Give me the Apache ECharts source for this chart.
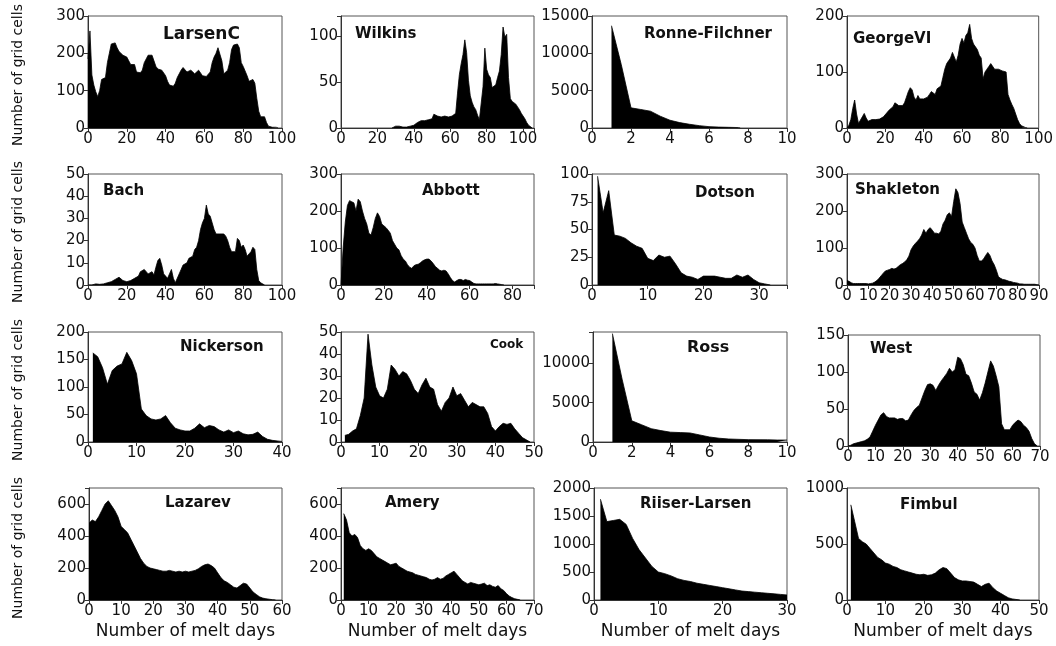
<!DOCTYPE html>
<html>
<head>
<meta charset="utf-8">
<script src="https://cdn.jsdelivr.net/npm/echarts@6/dist/echarts.min.js"></script>
<style>
html,body{margin:0;padding:0;background:#fff}
#chart{width:1056px;height:646px}
</style>
</head>
<body>
<div id="chart"></div>
<script>
// Histograms of melt days per grid cell for sixteen Antarctic ice shelves.
// Each count list starts at the given first day and runs in one-day steps.

const larsenCStart = 0;
const larsenC = [185,260,142,115,97,84,100,130,125,135,175,200,225,230,228,215,205,200,195,195,190,180,170,175,170,150,148,148,155,175,185,195,200,195,180,165,158,155,155,150,140,125,115,112,112,120,135,145,155,162,158,150,145,155,155,145,150,155,150,140,140,138,140,150,175,190,200,215,210,180,145,148,155,175,210,222,218,225,215,175,165,160,140,125,125,130,120,80,45,30,25,30,15,5,3,2,2,2,0];

const wilkinsStart = 28;
const wilkins = [0,2,2,2,2,1,1,1,1,1,2,2,3,5,6,7,8,8,8,9,9,10,10,15,13,13,13,12,12,13,13,12,12,13,13,16,38,58,70,80,96,82,52,35,28,23,20,14,9,8,45,87,64,58,55,44,42,47,55,62,80,110,99,102,55,32,29,28,26,23,20,16,14,10,6,3,1,0];

// Ronne-Filchner and Ross are read at half-day steps: [day, cells]
const ronneFilchner = [[1,13700],[1.5,8500],[2,2700],[2.5,2480],[3,2250],[3.5,1580],[4,1040],[4.5,720],[5,500],[5.5,315],[6,180],[6.5,120],[7,90],[7.5,60],[7.6,0]];

const georgeVIStart = 0;
const georgeVI = [0,5,15,35,50,25,8,10,20,26,18,12,14,15,13,15,16,16,18,20,22,28,32,35,38,45,45,40,38,40,45,55,65,72,68,55,50,58,52,54,52,55,55,60,65,62,60,70,68,75,90,105,115,120,125,135,137,118,130,150,160,152,165,170,185,160,150,148,140,130,125,88,100,105,110,115,118,105,108,105,108,102,105,100,60,50,42,35,25,15,8,4,2,1,0];

const bachStart = 0;
const bach = [0,0,0,0,0.5,0.3,0.3,0.3,0.5,1,1,1.5,1.5,2,2.5,3,3.5,3,2,2,1.5,1.5,2,2,3,3,4,6,6.5,7,6.5,5,5,6,4.5,8,11,12,9,5,4,3,5,7,3,1,1.5,5,7,9,9,10,12,12,13,16,17,20,25,28,30,36,32,31,28,25,23,23,23,22.5,23,22,20,17,15,15,15,21,20,17,18,16,13,14,15,17,16,7,2,1,0.5,0];

const abbottStart = 0;
const abbott = [0,100,170,215,228,225,222,200,232,225,200,180,165,140,135,155,180,195,185,165,160,155,148,140,120,110,100,95,80,70,65,55,48,45,52,55,56,60,65,68,70,70,65,58,50,45,40,38,40,38,30,20,12,8,12,15,15,12,15,13,12,8,4,3,3,3,3,3,3,3,3,3,4,3,2,1,0];

const dotsonStart = 1;
const dotson = [98,65,85,45,44,42,38,35,33,24,22,27,25,26,19,11,8,7,5,8,8,8,7,6,6,9,7,9,5,2,1,0];

const shakletonStart = 0;
const shakleton = [12,10,6,4,4,4,4,4,4,4,3,4,5,8,12,18,25,32,38,40,42,45,43,45,50,55,58,62,68,78,95,105,112,118,125,135,150,140,150,155,148,140,140,138,145,165,175,190,195,185,225,260,250,220,170,155,140,125,115,110,100,80,65,65,70,80,88,80,65,55,40,22,18,15,14,12,10,9,7,6,5,3,3,2,2,2,2,2,2,1,0];

const nickersonStart = 1;
const nickerson = [162,155,135,105,130,138,142,163,148,124,60,48,42,40,42,48,35,25,22,20,20,25,33,26,30,28,22,18,22,17,20,15,13,14,18,10,5,3,2,1];

const cookStart = 1;
const cook = [3,3.5,5,6,12,20,49,35,25,21,20,24,35,33,30,32,31,28,24,22,26,29,25,24,17,14,18,20,25,21,22,19,16,18,17,16,16,13,7,5,7,8.5,8,8.5,6,4,2,1,0];

const ross = [[1,13800],[1.5,8000],[2,2700],[2.5,2200],[3,1700],[3.5,1450],[4,1250],[4.5,1200],[5,1150],[5.5,900],[6,640],[6.5,480],[7,380],[8,300],[9,280],[9.5,250],[10,250]];

const westStart = 0;
const west = [0,1,3,4,5,6,7,9,12,20,28,35,42,45,40,38,38,38,36,37,37,34,35,42,48,52,55,65,75,83,84,82,75,82,88,93,98,105,100,103,120,118,110,97,95,85,73,70,62,72,85,100,115,108,95,80,30,22,22,22,28,32,35,33,28,25,20,10,3,0];

const lazarevStart = 0;
const lazarev = [480,500,490,520,560,600,620,590,560,520,460,440,420,380,340,300,260,230,210,200,195,190,185,180,180,185,180,175,180,175,180,175,180,185,195,210,220,225,215,200,170,140,120,110,95,80,75,90,105,100,75,50,35,20,12,8,5,2,0];

const ameryStart = 1;
const amery = [540,500,420,400,410,390,340,320,310,320,310,290,270,260,250,240,230,220,225,230,210,200,190,180,175,170,160,155,150,145,140,130,125,130,140,130,135,150,160,170,180,160,140,120,110,100,110,105,100,95,100,105,90,95,85,80,90,70,60,40,25,15,8,4,0];

const riiserLarsenStart = 1;
const riiserLarsen = [1800,1400,1420,1440,1350,1100,900,750,600,500,470,430,380,350,330,300,280,260,240,220,200,180,160,150,140,130,120,110,100,90];

const fimbulStart = 1;
const fimbul = [850,700,550,520,500,460,420,380,360,330,320,300,290,270,260,250,240,230,225,230,220,225,240,270,290,280,240,200,180,170,170,165,160,140,120,140,150,110,80,60,40,20,10,5,0];

// Panel names and axis ranges
const panelNames = ['LarsenC','Wilkins','Ronne-Filchner','GeorgeVI','Bach','Abbott','Dotson','Shakleton','Nickerson','Cook','Ross','West','Lazarev','Amery','Riiser-Larsen','Fimbul'];
const xRanges = [[100,20],[106,20],[10,2],[100,20],[100,20],[90,20],[35,10],[90,10],[40,10],[50,10],[10,2],[70,10],[60,10],[70,10],[30,10],[50,10]];
const yRanges = [[300,100],[122,50],[15000,5000],[200,100],[50,10],[300,100],[100,25],[300,100],[200,50],[50,10],[14000,5000],[150,50],[700,200],[700,200],[2000,500],[1000,500]];

const yTitle = 'Number of grid cells';
const xTitle = 'Number of melt days';

function fromStart(start, counts) {
  return counts.map((c, i) => [start + i, c]);
}

const seriesData = [
  fromStart(larsenCStart, larsenC),
  fromStart(wilkinsStart, wilkins),
  ronneFilchner,
  fromStart(georgeVIStart, georgeVI),
  fromStart(bachStart, bach),
  fromStart(abbottStart, abbott),
  fromStart(dotsonStart, dotson),
  fromStart(shakletonStart, shakleton),
  fromStart(nickersonStart, nickerson),
  fromStart(cookStart, cook),
  ross,
  fromStart(westStart, west),
  fromStart(lazarevStart, lazarev),
  fromStart(ameryStart, amery),
  fromStart(riiserLarsenStart, riiserLarsen),
  fromStart(fimbulStart, fimbul)
];

// Plot boxes: [left, top, width, height]
const boxes = [
  [88,16,194,112],[341,16,193,112],[592,16,195,112],[847,16,192,112],
  [88,174,194,111],[341,174,193,111],[592,174,195,111],[847,174,192,111],
  [88,332,194,110],[341,332,193,110],[593,332,194,110],[848,335,192,111],
  [89,488,193,112],[341,488,193,112],[594,488,193,112],[847,488,192,112]
];
// Panel label placement: [left, vertical centre, font size]
const labelPos = [
  [163,37,17],[355,36,15],[644,36,15],[853,41,15],
  [103,193,15],[422,193,15],[695,195,15],[855,192,15],
  [180,349,15],[490,346,12],[687,350,16],[870,351,15],
  [165,505,15],[385,505,15],[640,506,15],[900,507,15]
];
const rowCentres = [75, 232, 390, 548];

const tickFont = 'DejaVu Sans';
const ink = '#111';

function stepFormatter(step) {
  return function (v) {
    const r = Math.abs(v / step - Math.round(v / step));
    return r < 1e-6 ? String(v) : '';
  };
}

const grid = [], xAxis = [], yAxis = [], series = [], title = [];
boxes.forEach((b, i) => {
  grid.push({left: b[0], top: b[1], width: b[2], height: b[3], show: true,
    borderColor: '#555', borderWidth: 1, backgroundColor: 'transparent', containLabel: false});
  xAxis.push({
    gridIndex: i, type: 'value', min: 0, max: xRanges[i][0], interval: xRanges[i][1],
    axisLine: {show: true, onZero: false, lineStyle: {color: '#333', width: 1}},
    axisTick: {show: true, inside: false, length: 4, lineStyle: {color: '#333'}},
    axisLabel: {color: ink, fontFamily: tickFont, fontSize: 15, margin: 4, formatter: stepFormatter(xRanges[i][1])},
    splitLine: {show: false}
  });
  yAxis.push({
    gridIndex: i, type: 'value', min: 0, max: yRanges[i][0], interval: yRanges[i][1],
    axisLine: {show: true, onZero: false, lineStyle: {color: '#333', width: 1}},
    axisTick: {show: true, inside: false, length: 4, lineStyle: {color: '#333'}},
    axisLabel: {color: ink, fontFamily: tickFont, fontSize: 15, margin: 3, formatter: stepFormatter(yRanges[i][1])},
    splitLine: {show: false}
  });
  series.push({
    type: 'line', xAxisIndex: i, yAxisIndex: i, data: seriesData[i],
    showSymbol: false, symbol: 'none', silent: true,
    lineStyle: {color: '#000', width: 0.8},
    areaStyle: {color: '#000', opacity: 1}
  });
  const lp = labelPos[i];
  title.push({
    text: panelNames[i], left: lp[0], top: lp[1] - lp[2] * 0.62, padding: 0,
    textStyle: {fontFamily: tickFont, fontWeight: 'bold', fontSize: lp[2], color: ink}
  });
});

const graphic = [];
rowCentres.forEach(cy => {
  graphic.push({
    type: 'text', x: 18, y: cy, rotation: Math.PI / 2,
    style: {text: yTitle, fontFamily: tickFont, fontSize: 14, fill: ink, align: 'center', verticalAlign: 'middle'}
  });
});
[12, 13, 14, 15].forEach(i => {
  const b = boxes[i];
  graphic.push({
    type: 'text', x: b[0] + b[2] / 2, y: 632,
    style: {text: xTitle, fontFamily: tickFont, fontSize: 17, fill: ink, align: 'center', verticalAlign: 'middle'}
  });
});

const chart = echarts.init(document.getElementById('chart'), null, {renderer: 'canvas'});
chart.setOption({
  backgroundColor: '#fff',
  animation: false,
  title, grid, xAxis, yAxis, series, graphic
});
</script>
</body>
</html>
